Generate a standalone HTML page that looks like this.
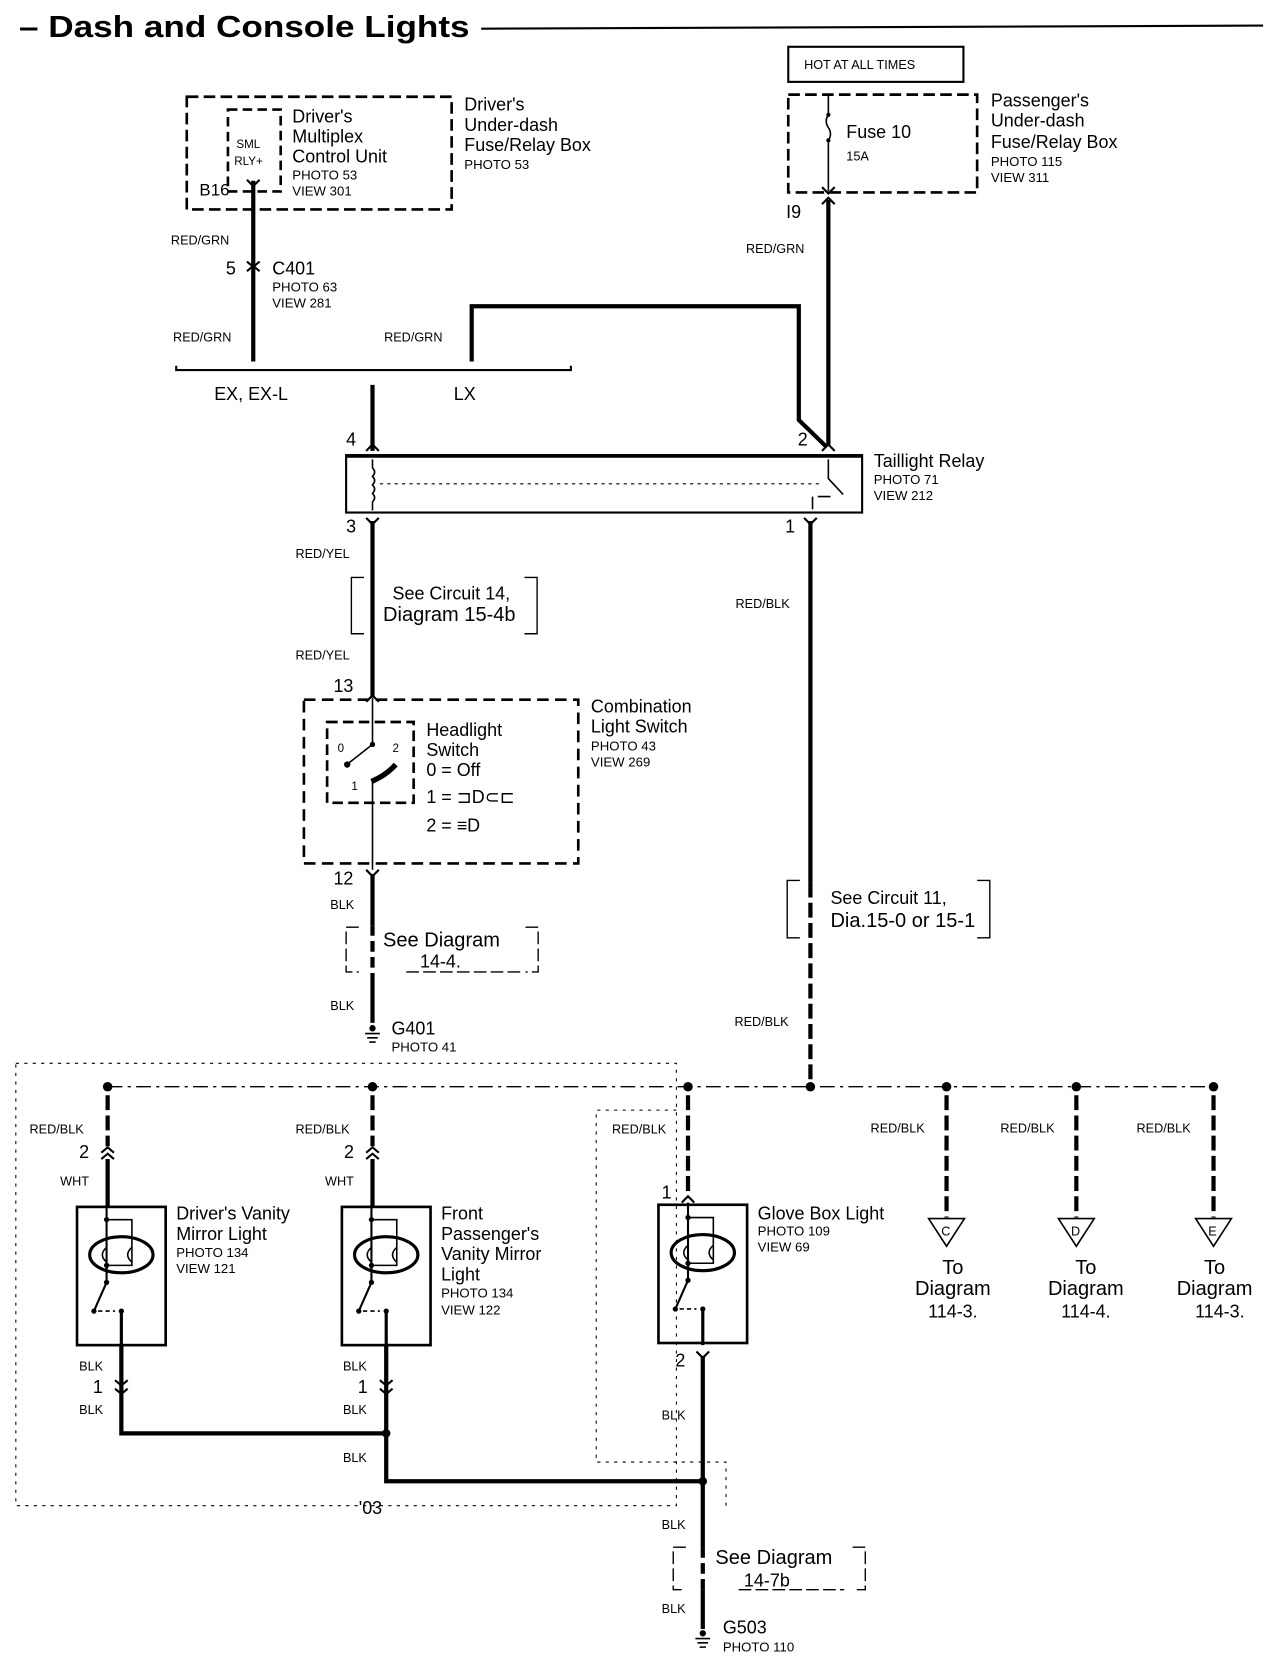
<!DOCTYPE html>
<html><head><meta charset="utf-8"><style>
html,body{margin:0;padding:0;background:#fff;}
svg{display:block}
text{font-family:"Liberation Sans",sans-serif;fill:#000}
.b{font-size:17px}
.s{font-size:12.5px}
.w{font-size:12px}
.t{font-size:19px}
</style></head><body>
<svg width="1280" height="1662" viewBox="0 0 1213 1563" preserveAspectRatio="none" xmlns="http://www.w3.org/2000/svg">
<defs>
<g id="lamp">
<rect x="0" y="0" width="84" height="130" fill="none" stroke="#000" stroke-width="2.5"/>
<line x1="28" y1="-2" x2="28" y2="60" stroke="#000" stroke-width="2"/>
<ellipse cx="42" cy="45" rx="30" ry="17" fill="none" stroke="#000" stroke-width="3"/>
<polyline points="28,12 52,12 52,55 28,55" fill="none" stroke="#000" stroke-width="1.5"/>
<circle cx="28" cy="12" r="2.5"/><circle cx="28" cy="55" r="2.5"/>
<path d="M28,38 q-8,7 0,14 M52,38 q-8,7 0,14" fill="none" stroke="#000" stroke-width="1.5"/>
<line x1="28" y1="55" x2="28" y2="71" stroke="#000" stroke-width="2"/>
<circle cx="28" cy="71" r="2.5"/>
<line x1="28" y1="71" x2="16" y2="98" stroke="#000" stroke-width="2"/>
<circle cx="16" cy="98" r="2.5"/>
<line x1="20" y1="98" x2="36" y2="98" stroke="#000" stroke-width="1.5" stroke-dasharray="4,3"/>
<circle cx="42" cy="98" r="2.5"/>
<line x1="42" y1="98" x2="42" y2="132" stroke="#000" stroke-width="3"/>
</g>
</defs>
<text x="18" y="35" style="font-size:29px;font-weight:bold" textLength="427" lengthAdjust="spacingAndGlyphs">– Dash and Console Lights</text>
<line x1="456" y1="27" x2="1197" y2="24" stroke="#000" stroke-width="2"/>

<rect x="747" y="44" width="166" height="33" fill="none" stroke="#000" stroke-width="2"/>
<text x="762" y="65" class="w">HOT AT ALL TIMES</text>
<rect x="747" y="89" width="179" height="92" fill="none" stroke="#000" stroke-width="2.5" stroke-dasharray="11,5"/>
<line x1="785" y1="90" x2="785" y2="108" stroke="#000" stroke-width="1.5"/>
<path d="M785,108 q-4,6 0,12 q4,6 0,12" fill="none" stroke="#000" stroke-width="1.5"/>
<circle cx="785" cy="108" r="2"/><circle cx="785" cy="132" r="2"/>
<line x1="785" y1="132" x2="785" y2="180" stroke="#000" stroke-width="1.5"/>
<path d="M779,176 l6,6 l6,-6" fill="none" stroke="#000" stroke-width="2"/>
<text x="802" y="130" class="b">Fuse 10</text>
<text x="802" y="151" class="w">15A</text>
<text x="939" y="100" class="b">Passenger's</text>
<text x="939" y="119" class="b">Under-dash</text>
<text x="939" y="139" class="b">Fuse/Relay Box</text>
<text x="939" y="156" class="s">PHOTO 115</text>
<text x="939" y="171" class="s">VIEW 311</text>
<path d="M779,192 l6,-6 l6,6" fill="none" stroke="#000" stroke-width="2"/>
<text x="745" y="205" class="b">I9</text>
<line x1="785" y1="188" x2="785" y2="418" stroke="#000" stroke-width="4"/>
<text x="707" y="238" class="w">RED/GRN</text>

<rect x="177" y="91" width="251" height="106" fill="none" stroke="#000" stroke-width="2.5" stroke-dasharray="11,5"/>
<rect x="216" y="103" width="50" height="77" fill="none" stroke="#000" stroke-width="2.5" stroke-dasharray="9,5"/>
<text x="224" y="139" style="font-size:11px">SML</text>
<text x="222" y="155" style="font-size:11px">RLY+</text>
<text x="277" y="115" class="b">Driver's</text>
<text x="277" y="134" class="b">Multiplex</text>
<text x="277" y="153" class="b">Control Unit</text>
<text x="277" y="169" class="s">PHOTO 53</text>
<text x="277" y="184" class="s">VIEW 301</text>
<text x="189" y="184" style="font-size:16px">B16</text>
<text x="440" y="104" class="b">Driver's</text>
<text x="440" y="123" class="b">Under-dash</text>
<text x="440" y="142" class="b">Fuse/Relay Box</text>
<text x="440" y="159" class="s">PHOTO 53</text>
<path d="M234,169 l6,6 l6,-6" fill="none" stroke="#000" stroke-width="2"/>
<line x1="240" y1="170" x2="240" y2="340" stroke="#000" stroke-width="4"/>
<text x="162" y="230" class="w">RED/GRN</text>
<path d="M234,246 l6,5 l6,-5 M234,255 l6,-5 l6,5" fill="none" stroke="#000" stroke-width="2"/>
<text x="214" y="258" class="b">5</text>
<text x="258" y="258" class="b">C401</text>
<text x="258" y="274" class="s">PHOTO 63</text>
<text x="258" y="289" class="s">VIEW 281</text>
<text x="164" y="321" class="w">RED/GRN</text>
<text x="364" y="321" class="w">RED/GRN</text>
<polyline points="447,340 447,288 757,288 757,395 783,420" fill="none" stroke="#000" stroke-width="4"/>
<polyline points="167,344 167,348 541,348 541,344" fill="none" stroke="#000" stroke-width="2"/>
<text x="203" y="376" class="b">EX, EX-L</text>
<text x="430" y="376" class="b">LX</text>
<line x1="353" y1="362" x2="353" y2="424" stroke="#000" stroke-width="4"/>
<path d="M347,424 l6,-6 l6,6" fill="none" stroke="#000" stroke-width="2"/>
<path d="M779,424 l6,-6 l6,6" fill="none" stroke="#000" stroke-width="2"/>
<text x="328" y="419" class="b">4</text>
<text x="756" y="419" class="b">2</text>

<rect x="328" y="428" width="489" height="54" fill="none" stroke="#000" stroke-width="2"/>
<line x1="328" y1="429" x2="817" y2="429" stroke="#000" stroke-width="3"/>
<line x1="360" y1="455" x2="780" y2="455" stroke="#000" stroke-width="1" stroke-dasharray="3,4"/>
<path d="M353,432 v8 q4,4 0,8 q4,4 0,8 q4,4 0,8 q4,4 0,8 v8" fill="none" stroke="#000" stroke-width="1.5"/>
<path d="M785,432 v18 l14,15 M775,467 h12 M770,467 v12" fill="none" stroke="#000" stroke-width="1.5"/>
<text x="828" y="439" class="b">Taillight Relay</text>
<text x="828" y="455" class="s">PHOTO 71</text>
<text x="828" y="470" class="s">VIEW 212</text>
<text x="328" y="501" class="b">3</text>
<text x="744" y="501" class="b">1</text>
<path d="M347,487 l6,6 l6,-6 M762,487 l6,6 l6,-6" fill="none" stroke="#000" stroke-width="2"/>
<line x1="353" y1="490" x2="353" y2="655" stroke="#000" stroke-width="4"/>
<line x1="768" y1="490" x2="768" y2="830" stroke="#000" stroke-width="4"/>
<line x1="768" y1="830" x2="768" y2="1020" stroke="#000" stroke-width="4" stroke-dasharray="14,5"/>
<text x="280" y="525" class="w">RED/YEL</text>
<path d="M345,543 h-12 v53 h12 M497,543 h12 v53 h-12" fill="none" stroke="#000" stroke-width="1.3"/>
<text x="372" y="564" class="b">See Circuit 14,</text>
<text x="363" y="584" class="t">Diagram 15-4b</text>
<text x="280" y="620" class="w">RED/YEL</text>
<text x="316" y="651" class="b">13</text>
<text x="697" y="572" class="w">RED/BLK</text>
<path d="M758,828 h-12 v54 h12 M926,828 h12 v54 h-12" fill="none" stroke="#000" stroke-width="1.3"/>
<text x="787" y="850" class="b">See Circuit 11,</text>
<text x="787" y="872" class="t">Dia.15-0 or 15-1</text>
<text x="696" y="965" class="w">RED/BLK</text>

<rect x="288" y="658" width="260" height="154" fill="none" stroke="#000" stroke-width="2.5" stroke-dasharray="11,6"/>
<rect x="310" y="679" width="82" height="76" fill="none" stroke="#000" stroke-width="2.5" stroke-dasharray="10,5"/>
<line x1="353" y1="656" x2="353" y2="700" stroke="#000" stroke-width="1.5"/>
<circle cx="353" cy="700" r="2.5"/>
<line x1="353" y1="700" x2="330" y2="718" stroke="#000" stroke-width="1.5"/>
<circle cx="329" cy="719" r="3"/>
<path d="M352,735 q14,-6 23,-16" fill="none" stroke="#000" stroke-width="5"/>
<line x1="353" y1="735" x2="353" y2="818" stroke="#000" stroke-width="1.5"/>
<text x="320" y="707" style="font-size:11px">0</text>
<text x="372" y="707" style="font-size:11px">2</text>
<text x="333" y="743" style="font-size:11px">1</text>
<text x="404" y="692" class="b">Headlight</text>
<text x="404" y="711" class="b">Switch</text>
<text x="404" y="730" class="b">0 = Off</text>
<text x="404" y="755" class="b">1 = ⊐D⊂⊏</text>
<text x="404" y="782" class="b">2 = ≡D</text>
<text x="560" y="670" class="b">Combination</text>
<text x="560" y="689" class="b">Light Switch</text>
<text x="560" y="706" class="s">PHOTO 43</text>
<text x="560" y="721" class="s">VIEW 269</text>
<path d="M347,660 l6,-6 l6,6 M347,818 l6,6 l6,-6" fill="none" stroke="#000" stroke-width="2"/>
<text x="316" y="832" class="b">12</text>
<line x1="353" y1="822" x2="353" y2="870" stroke="#000" stroke-width="4"/>
<line x1="353" y1="870" x2="353" y2="915" stroke="#000" stroke-width="4" stroke-dasharray="10,5"/>
<line x1="353" y1="915" x2="353" y2="962" stroke="#000" stroke-width="4"/>
<text x="313" y="855" class="w">BLK</text>
<path d="M340,872 h-12 v42 h12 M498,872 h12 v42 h-12 M385,914 h110" fill="none" stroke="#000" stroke-width="1.3" stroke-dasharray="12,4"/>
<text x="363" y="890" class="t">See Diagram</text>
<text x="398" y="910" class="b">14-4.</text>
<text x="313" y="950" class="w">BLK</text>
<circle cx="353" cy="967" r="3"/>
<path d="M346,972 h14 M348,976 h10 M350,980 h6" stroke="#000" stroke-width="1.5"/>
<text x="371" y="973" class="b">G401</text>
<text x="371" y="989" class="s">PHOTO 41</text>

<rect x="15" y="1000" width="626" height="416" fill="none" stroke="#000" stroke-width="1" stroke-dasharray="3,5"/>
<polyline points="641,1044 565,1044 565,1375 688,1375 688,1416" fill="none" stroke="#000" stroke-width="1" stroke-dasharray="3,5"/>
<line x1="102" y1="1022" x2="1150" y2="1022" stroke="#000" stroke-width="1.3" stroke-dasharray="14,5,3,5"/>
<g fill="#000">
<circle cx="102" cy="1022" r="4.5"/><circle cx="353" cy="1022" r="4.5"/><circle cx="652" cy="1022" r="4.5"/>
<circle cx="768" cy="1022" r="4.5"/><circle cx="897" cy="1022" r="4.5"/><circle cx="1020" cy="1022" r="4.5"/><circle cx="1150" cy="1022" r="4.5"/>
</g>
<g stroke="#000" stroke-width="4" stroke-dasharray="14,5" fill="none">
<line x1="102" y1="1030" x2="102" y2="1078"/>
<line x1="353" y1="1030" x2="353" y2="1078"/>
<line x1="652" y1="1030" x2="652" y2="1125"/>
<line x1="897" y1="1030" x2="897" y2="1145"/>
<line x1="1020" y1="1030" x2="1020" y2="1145"/>
<line x1="1150" y1="1030" x2="1150" y2="1145"/>
</g>
<text x="28" y="1066" class="w">RED/BLK</text>
<text x="280" y="1066" class="w">RED/BLK</text>
<text x="580" y="1066" class="w">RED/BLK</text>
<text x="825" y="1065" class="w">RED/BLK</text>
<text x="948" y="1065" class="w">RED/BLK</text>
<text x="1077" y="1065" class="w">RED/BLK</text>

<path d="M96,1084 l6,-5 l6,5 M96,1090 l6,-5 l6,5" fill="none" stroke="#000" stroke-width="2"/>
<text x="75" y="1089" class="b">2</text>
<text x="57" y="1115" class="w">WHT</text>
<line x1="102" y1="1090" x2="102" y2="1135" stroke="#000" stroke-width="4"/>
<use href="#lamp" x="73" y="1135"/>
<text x="167" y="1147" class="b">Driver's Vanity</text>
<text x="167" y="1166" class="b">Mirror Light</text>
<text x="167" y="1182" class="s">PHOTO 134</text>
<text x="167" y="1197" class="s">VIEW 121</text>
<text x="75" y="1289" class="w">BLK</text>
<text x="88" y="1310" class="b">1</text>
<path d="M109,1298 l6,5 l6,-5 M109,1306 l6,5 l6,-5" fill="none" stroke="#000" stroke-width="2"/>
<text x="75" y="1330" class="w">BLK</text>
<polyline points="115,1265 115,1348 366,1348" fill="none" stroke="#000" stroke-width="4"/>

<path d="M347,1084 l6,-5 l6,5 M347,1090 l6,-5 l6,5" fill="none" stroke="#000" stroke-width="2"/>
<text x="326" y="1089" class="b">2</text>
<text x="308" y="1115" class="w">WHT</text>
<line x1="353" y1="1090" x2="353" y2="1135" stroke="#000" stroke-width="4"/>
<use href="#lamp" x="324" y="1135"/>
<text x="418" y="1147" class="b">Front</text>
<text x="418" y="1166" class="b">Passenger's</text>
<text x="418" y="1185" class="b">Vanity Mirror</text>
<text x="418" y="1204" class="b">Light</text>
<text x="418" y="1220" class="s">PHOTO 134</text>
<text x="418" y="1236" class="s">VIEW 122</text>
<text x="325" y="1289" class="w">BLK</text>
<text x="339" y="1310" class="b">1</text>
<path d="M360,1298 l6,5 l6,-5 M360,1306 l6,5 l6,-5" fill="none" stroke="#000" stroke-width="2"/>
<text x="325" y="1330" class="w">BLK</text>
<polyline points="366,1265 366,1393 666,1393" fill="none" stroke="#000" stroke-width="4"/>
<circle cx="366" cy="1348" r="4"/>
<text x="325" y="1375" class="w">BLK</text>

<path d="M646,1131 l6,-6 l6,6" fill="none" stroke="#000" stroke-width="2"/>
<text x="627" y="1127" class="b">1</text>
<use href="#lamp" x="624" y="1133"/>
<text x="718" y="1147" class="b">Glove Box Light</text>
<text x="718" y="1162" class="s">PHOTO 109</text>
<text x="718" y="1177" class="s">VIEW 69</text>
<text x="640" y="1285" class="b">2</text>
<path d="M660,1271 l6,6 l6,-6" fill="none" stroke="#000" stroke-width="2"/>
<line x1="666" y1="1275" x2="666" y2="1455" stroke="#000" stroke-width="4"/>
<line x1="666" y1="1455" x2="666" y2="1495" stroke="#000" stroke-width="4" stroke-dasharray="10,5"/>
<line x1="666" y1="1495" x2="666" y2="1532" stroke="#000" stroke-width="4"/>
<circle cx="666" cy="1393" r="4"/>
<text x="627" y="1335" class="w">BLK</text>
<text x="340" y="1424" class="b">'03</text>
<text x="627" y="1438" class="w">BLK</text>
<path d="M650,1455 h-12 v40 h12 M808,1455 h12 v40 h-12 M700,1495 h100" fill="none" stroke="#000" stroke-width="1.3" stroke-dasharray="12,4"/>
<text x="678" y="1471" class="t">See Diagram</text>
<text x="705" y="1492" class="b">14-7b</text>
<text x="627" y="1517" class="w">BLK</text>
<circle cx="666" cy="1536" r="3"/>
<path d="M659,1541 h14 M661,1545 h10 M663,1549 h6" stroke="#000" stroke-width="1.5"/>
<text x="685" y="1536" class="b">G503</text>
<text x="685" y="1553" class="s">PHOTO 110</text>

<g fill="none" stroke="#000" stroke-width="1.5">
<polygon points="880,1146 914,1146 897,1172"/>
<polygon points="1003,1146 1037,1146 1020,1172"/>
<polygon points="1133,1146 1167,1146 1150,1172"/>
</g>
<text x="892" y="1162" style="font-size:12px">C</text>
<text x="1015" y="1162" style="font-size:12px">D</text>
<text x="1145" y="1162" style="font-size:12px">E</text>
<g text-anchor="middle">
<text x="903" y="1198" class="t">To</text><text x="903" y="1218" class="t">Diagram</text><text x="903" y="1239" class="b">114-3.</text>
<text x="1029" y="1198" class="t">To</text><text x="1029" y="1218" class="t">Diagram</text><text x="1029" y="1239" class="b">114-4.</text>
<text x="1151" y="1198" class="t">To</text><text x="1151" y="1218" class="t">Diagram</text><text x="1156" y="1239" class="b">114-3.</text>
</g>
</svg>
</body></html>
